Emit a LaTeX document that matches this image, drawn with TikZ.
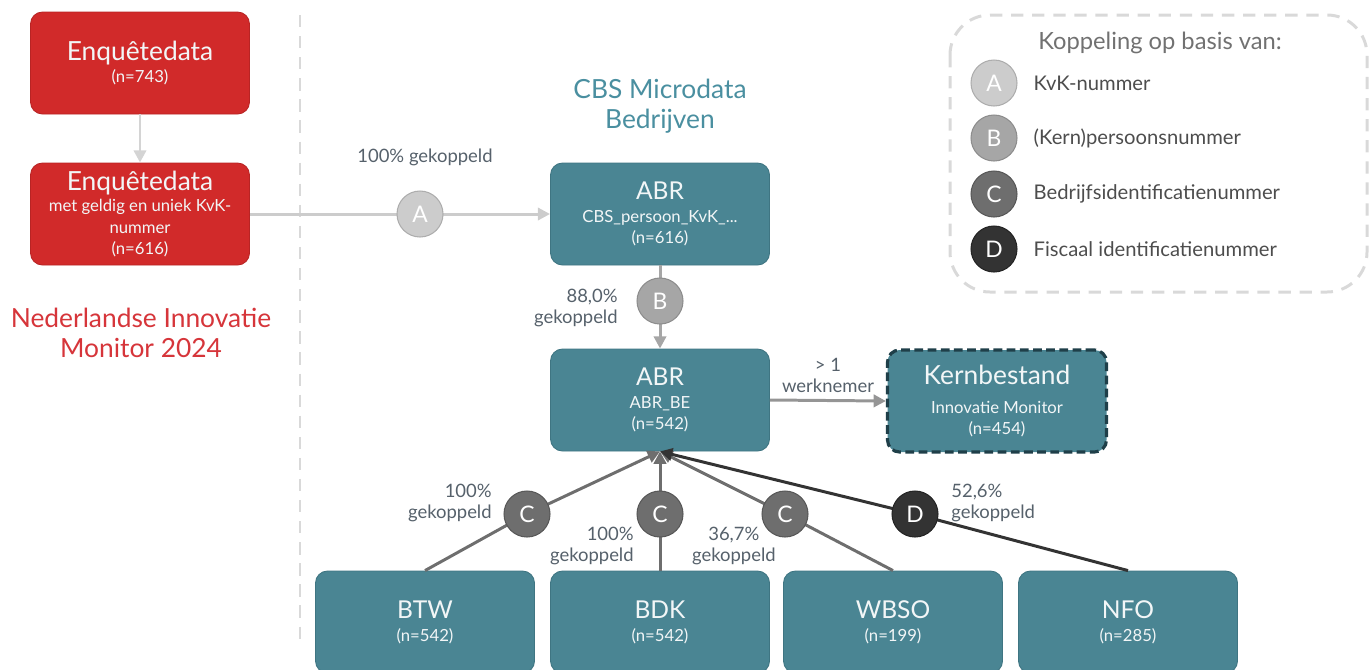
\documentclass[tikz,border=0pt]{standalone}
\usepackage{fontspec}
\setmainfont{Lato}
\usetikzlibrary{arrows.meta}
\definecolor{enqred}{HTML}{D12A2A}
\definecolor{enqedge}{HTML}{B82424}
\definecolor{tealbox}{HTML}{4A8593}
\definecolor{tealedge}{HTML}{3F7582}
\definecolor{kernedge}{HTML}{1F3F49}
\definecolor{boxtext}{HTML}{F2F6F7}
\definecolor{titleteal}{HTML}{4A8FA0}
\definecolor{monitorred}{HTML}{D6353A}
\definecolor{lbltext}{HTML}{56616B}
\definecolor{legendtext}{HTML}{4D4D4D}
\definecolor{sepgray}{HTML}{D9D9D9}
\definecolor{keyA}{HTML}{CCCCCC}
\definecolor{keyB}{HTML}{A6A6A6}
\definecolor{keyC}{HTML}{6E6E6E}
\definecolor{keyD}{HTML}{333333}
\newcommand{\boxtitlefont}{\fontsize{14}{17}\selectfont}
\newcommand{\bigtitlefont}{\fontsize{15}{18}\selectfont}
\newcommand{\boxsubfont}{\fontsize{9.5}{11}\selectfont}
\newcommand{\lblfont}{\fontsize{10.5}{12}\selectfont}
\newcommand{\keyfont}{\fontsize{13}{13}\selectfont}
\tikzset{
  databox/.style={draw=tealedge, fill=tealbox, rounded corners=0.24cm,
                  minimum width=4.38cm, minimum height=2.04cm,
                  align=center, text=boxtext, inner sep=0pt, line width=0.5pt},
  enqbox/.style={databox, draw=enqedge, fill=enqred},
  kernbox/.style={databox, draw=kernedge, line width=1.8pt,
                  dash pattern=on 5pt off 2.5pt},
  keycirc/.style={circle, minimum size=0.92cm, inner sep=0pt, text=white,
                  font=\keyfont, line width=0.6pt},
  keyAcirc/.style={keycirc, fill=keyA, draw=keyA!85!black},
  keyBcirc/.style={keycirc, fill=keyB, draw=keyB!85!black},
  keyCcirc/.style={keycirc, fill=keyC, draw=keyC!80!black},
  keyDcirc/.style={keycirc, fill=keyD, draw=keyD!70!black},
  pct/.style={font=\lblfont, text=lbltext, align=right, inner sep=0pt},
  legtext/.style={anchor=west, font=\fontsize{11.5}{13}\selectfont, text=legendtext},
  tip/.style={-{Triangle[length=7pt, width=7pt]}},
  linkA/.style={line width=1.7pt, keyA},
  linkB/.style={line width=1.7pt, keyB},
  linkC/.style={line width=1.7pt, keyC},
  linkD/.style={line width=1.7pt, keyD},
}

\begin{document}
\begin{tikzpicture}
    \useasboundingbox (0,0) rectangle (27.4,-13.38);
    \clip (0,0) rectangle (27.4,-13.38);

    % survey side
    \node[enqbox] (enq1) at (2.8,-1.26) {{\bigtitlefont Enquêtedata}\\[1pt]{\boxsubfont (n=743)}};
    \node[enqbox] (enq2) at (2.8,-4.28) {{\bigtitlefont Enquêtedata}\\[0pt]{\boxsubfont met geldig en uniek KvK-}\\{\boxsubfont nummer}\\{\boxsubfont (n=616)}};
    \node[font=\fontsize{15}{17}\selectfont, text=monitorred, align=center] (nim) at (2.82,-6.66) {Nederlandse Innovatie\\Monitor 2024};
    \draw[tip, line width=1.7pt, keyA!85] (enq1) -- (enq2);

    \draw[sepgray, line width=1.7pt, dash pattern=on 7pt off 5pt] (6.0,-0.3) -- (6.0,-12.9);

    % microdata side
    \node[font=\fontsize{15}{17}\selectfont, text=titleteal, align=center] (cbs) at (13.2,-2.12) {CBS Microdata\\Bedrijven};
    \node[databox] (abr1) at (13.2,-4.28) {{\boxtitlefont ABR}\\[1pt]{\boxsubfont CBS\_persoon\_KvK\_...}\\{\boxsubfont (n=616)}};
    \node[databox] (abr2) at (13.2,-8.0) {{\boxtitlefont ABR}\\[1pt]{\boxsubfont ABR\_BE}\\{\boxsubfont (n=542)}};
    \node[kernbox] (kern) at (19.94,-8.02) {{\bigtitlefont Kernbestand}\\[4pt]{\boxsubfont Innovatie Monitor}\\{\boxsubfont (n=454)}};

    \node[databox] (btw) at (8.5,-12.44) {{\boxtitlefont BTW}\\[1pt]{\boxsubfont (n=542)}};
    \node[databox] (bdk) at (13.2,-12.44) {{\boxtitlefont BDK}\\[1pt]{\boxsubfont (n=542)}};
    \node[databox] (wbso) at (17.86,-12.44) {{\boxtitlefont WBSO}\\[1pt]{\boxsubfont (n=199)}};
    \node[databox] (nfo) at (22.56,-12.44) {{\boxtitlefont NFO}\\[1pt]{\boxsubfont (n=285)}};

    % links
    \draw[linkA] (enq2.east) -- (8.4,-4.28);
    \draw[linkA, tip] (8.4,-4.28) -- (abr1.west);
    \node[keyAcirc] (kA) at (8.4,-4.28) {A};
    \node[pct, align=center] (pA) at (8.5,-3.14) {100\% gekoppeld};

    \draw[linkB] (abr1.south) -- (13.2,-6.02);
    \draw[linkB, tip] (13.2,-6.02) -- (abr2.north);
    \node[keyBcirc] (kB) at (13.2,-6.02) {B};
    \node[pct, anchor=east] (pB) at (12.36,-6.16) {88,0\%\\gekoppeld};

    \draw[line width=1.7pt, keyB!90!black, tip] (abr2.east) -- (kern.west);
    \node[pct, align=center] (pK) at (16.56,-7.5) {> 1\\werknemer};

    \coordinate (hub) at (abr2.south);
    \draw[linkC] (btw.north) -- (10.54,-10.28);
    \draw[linkC, tip] (10.54,-10.28) -- (hub);
    \draw[linkC] (bdk.north) -- (13.2,-10.28);
    \draw[linkC, tip] (13.2,-10.28) -- (hub);
    \draw[linkC] (wbso.north) -- (15.7,-10.28);
    \draw[linkC, tip] (15.7,-10.28) -- (hub);
    \draw[linkD] (nfo.north) -- (18.3,-10.28);
    \draw[linkD, tip] (18.3,-10.28) -- (hub);
    \node[keyCcirc] (kC1) at (10.54,-10.28) {C};
    \node[keyCcirc] (kC2) at (13.2,-10.28) {C};
    \node[keyCcirc] (kC3) at (15.7,-10.28) {C};
    \node[keyDcirc] (kD) at (18.3,-10.28) {D};
    \node[pct, anchor=east] (pC1) at (9.84,-10.06) {100\%\\gekoppeld};
    \node[pct, anchor=east] (pC2) at (12.68,-10.92) {100\%\\gekoppeld};
    \node[pct, anchor=east, align=center] (pC3) at (15.52,-10.92) {36,7\%\\gekoppeld};
    \node[pct, anchor=west, align=left] (pD) at (19.02,-10.06) {52,6\%\\gekoppeld};

    % legend
    \draw[sepgray, line width=1.7pt, dash pattern=on 7pt off 5pt, rounded corners=0.8cm] (19.0,-0.3) rectangle (27.34,-5.84);
    \node[font=\fontsize{13.5}{15}\selectfont, text=legendtext!80] (legtitle) at (23.2,-0.86) {Koppeling op basis van:};
    \node[keyAcirc] (legA) at (19.88,-1.66) {A};
    \node[keyBcirc] (legB) at (19.88,-2.76) {B};
    \node[keyCcirc] (legC) at (19.88,-3.88) {C};
    \node[keyDcirc] (legD) at (19.88,-4.98) {D};
    \node[legtext] (txtA) at (20.55,-1.66) {KvK-nummer};
    \node[legtext] (txtB) at (20.55,-2.76) {(Kern)persoonsnummer};
    \node[legtext] (txtC) at (20.55,-3.88) {Bedrijfsidentificatienummer};
    \node[legtext] (txtD) at (20.55,-4.98) {Fiscaal identificatienummer};
  \end{tikzpicture}
\end{document}
